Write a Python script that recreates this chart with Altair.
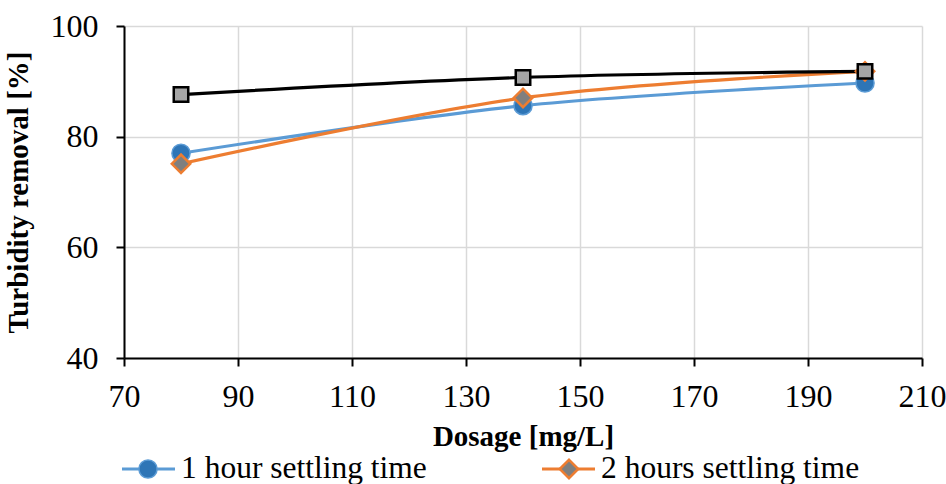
import altair as alt
import pandas as pd

dosage = [80, 140, 200]
series_names = ["1 hour settling time", "2 hours settling time", "3 hours settling time"]
removal_1h = [77.0, 85.6, 89.7]
removal_2h = [75.1, 87.0, 91.8]
removal_3h = [87.6, 90.7, 91.8]
x_ticks = [70, 90, 110, 130, 150, 170, 190, 210]
y_ticks = [40, 60, 80, 100]

FONT = "Liberation Serif"

styles = [
    dict(line="#5B9BD5", fill="#2E75B6", stroke="#5B9BD5", shape="circle", size=330, sw=1.5),
    dict(line="#ED7D31", fill="#7F7F7F", stroke="#ED7D31", shape="diamond", size=340, sw=2.5),
    dict(line="#000000", fill="#A5A5A5", stroke="#000000", shape="square", size=210, sw=2.5),
]
# legend layout (pixels in plot coordinates); the third row falls below the visible page,
# as in the reference where only the first legend row is visible
legend_pos = [
    dict(x0=-2, x1=51, mx=24, tx=57, y=443),
    dict(x0=418, x1=471, mx=445, tx=477, y=443),
    dict(x0=-2, x1=51, mx=24, tx=57, y=500),
]

xs = alt.Scale(domain=[70, 210], nice=False, zero=False)
ys = alt.Scale(domain=[40, 100], nice=False, zero=False)

values = [removal_1h, removal_2h, removal_3h]
rows = []
for name, vals in zip(series_names, values):
    for d, v in zip(dosage, vals):
        rows.append({"Dosage": d, "Removal": v, "Series": name})
data = pd.DataFrame(rows)

x_enc = alt.X("Dosage:Q", scale=xs, axis=alt.Axis(values=x_ticks, title="Dosage [mg/L]"))
y_enc = alt.Y("Removal:Q", scale=ys, axis=alt.Axis(values=y_ticks, title="Turbidity removal [%]"))

layers = []
for name, st in zip(series_names, styles):
    layers.append(alt.Chart(data).transform_filter(alt.datum.Series == name)
                  .mark_line(color=st["line"], strokeWidth=3.2, interpolate="catmull-rom")
                  .encode(x=x_enc, y=y_enc))
for name, st in zip(series_names, styles):
    layers.append(alt.Chart(data).transform_filter(alt.datum.Series == name)
                  .mark_point(shape=st["shape"], size=st["size"], filled=True,
                              fill=st["fill"], stroke=st["stroke"], strokeWidth=st["sw"], opacity=1)
                  .encode(x=x_enc, y=y_enc))

# custom legend (pixel positions are layout only)
one = pd.DataFrame({"k": [0]})
for name, st, lp in zip(series_names, styles, legend_pos):
    lbase = alt.Chart(one)
    layers.append(lbase.mark_rule(color=st["line"], strokeWidth=3.2).encode(
        x=alt.value(lp["x0"]), x2=alt.value(lp["x1"]), y=alt.value(lp["y"])))
    layers.append(lbase.mark_point(shape=st["shape"], size=st["size"], filled=True,
                                   fill=st["fill"], stroke=st["stroke"], strokeWidth=st["sw"],
                                   opacity=1).encode(
        x=alt.value(lp["mx"]), y=alt.value(lp["y"])))
    layers.append(lbase.mark_text(align="left", baseline="middle", font=FONT,
                                  fontSize=31.5, color="#000000").encode(
        x=alt.value(lp["tx"]), y=alt.value(lp["y"]), text=alt.value(name)))

chart = alt.layer(*layers).properties(
    width=798, height=332,
    autosize=alt.AutoSizeParams(type="none"),
    padding={"left": 124, "top": 26, "right": 24, "bottom": 126},
    background="white",
).configure_view(stroke=None).configure_axis(
    labelFont=FONT, labelFontSize=32, labelColor="#000000",
    titleFont=FONT, titleFontSize=29, titleFontWeight="bold", titleColor="#000000",
    domainColor="#000000", domainWidth=2, tickColor="#000000", tickWidth=2, tickSize=8,
    gridColor="#D9D9D9", gridWidth=1.5, grid=True,
).configure_axisX(labelPadding=15, titlePadding=10, labelFlush=False
).configure_axisY(labelPadding=18, titlePadding=17)

chart.save("out.html", embed_options={"renderer": "svg", "actions": False})
